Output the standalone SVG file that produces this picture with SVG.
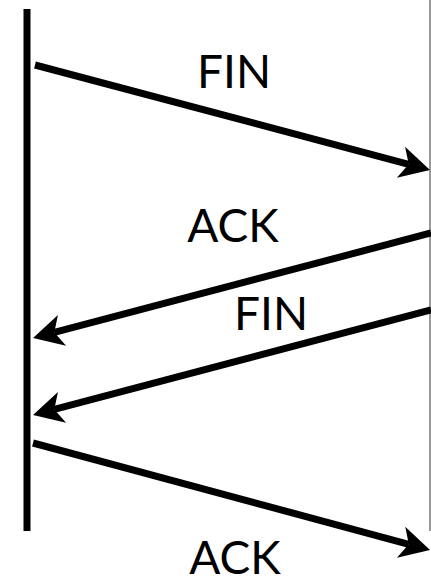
<svg xmlns="http://www.w3.org/2000/svg" width="431" height="579" viewBox="0 0 431 579">
<style>
.msg{stroke:#000;stroke-width:7;fill:none}
.lbl{font-family:Lato,"Liberation Sans",sans-serif;font-size:46px;fill:#000;text-anchor:middle}
</style>
<defs>
<marker id="ah" markerUnits="userSpaceOnUse" markerWidth="40" markerHeight="40" refX="0" refY="0" viewBox="-10 -20 40 40" orient="auto" overflow="visible">
<path d="M22,0 L-8,-16 L0,0 L-8,16 Z" fill="#000"/>
</marker>
</defs>
<rect width="431" height="579" fill="#fff"/>
<g id="client"><line x1="27" y1="9" x2="27" y2="531" stroke="#000" stroke-width="7"/></g>
<g id="server"><line x1="430" y1="0" x2="430" y2="531" stroke="#777" stroke-width="1.5"/></g>
<g id="connectors">
<line class="msg" x1="35" y1="65" x2="408.7" y2="164.3" marker-end="url(#ah)"/>
<line class="msg" x1="431" y1="233" x2="54.3" y2="332.4" marker-end="url(#ah)"/>
<line class="msg" x1="431" y1="310" x2="54.3" y2="409.4" marker-end="url(#ah)"/>
<line class="msg" x1="33" y1="443" x2="408.8" y2="544.3" marker-end="url(#ah)"/>
</g>
<g id="labels">
<text class="lbl" x="234" y="88">FIN</text>
<text class="lbl" x="233" y="242">ACK</text>
<text class="lbl" x="271" y="330">FIN</text>
<text class="lbl" x="235" y="574">ACK</text>
</g>
</svg>
